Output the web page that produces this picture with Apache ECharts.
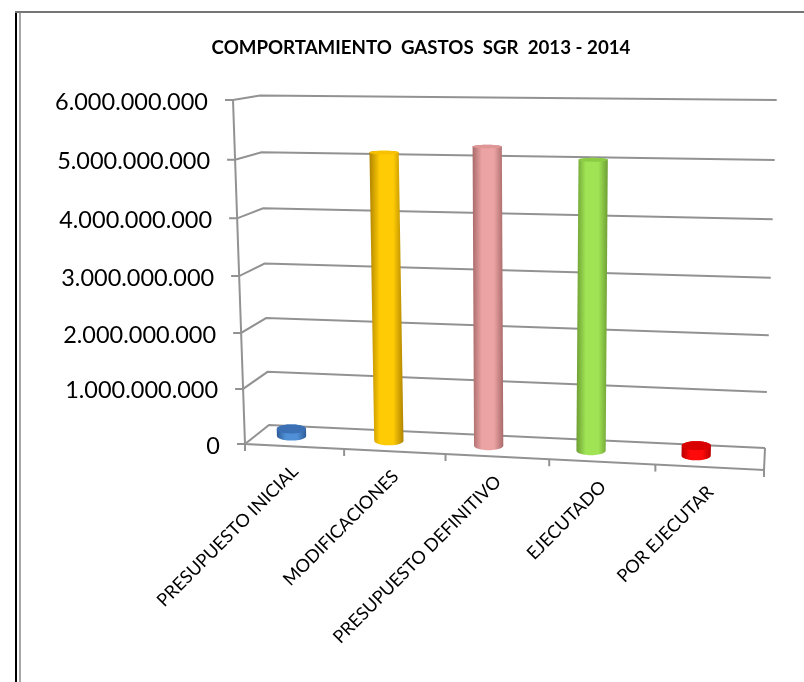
<!DOCTYPE html>
<html>
<head>
<meta charset="utf-8">
<style>
  html, body { margin: 0; padding: 0; background: #fff; }
  #chart { width: 804px; height: 682px; }
</style>
<script src="https://cdn.jsdelivr.net/npm/echarts@6/dist/echarts.min.js"></script>
</head>
<body>
<div id="chart"></div>
<script>
const chartTitle = 'COMPORTAMIENTO  GASTOS  SGR  2013 - 2014';
const categories = ['PRESUPUESTO INICIAL', 'MODIFICACIONES', 'PRESUPUESTO DEFINITIVO', 'EJECUTADO', 'POR EJECUTAR'];
const seriesValues = [130000000, 5080000000, 5200000000, 5000000000, 175000000];
const yTickValues = [0, 1000000000, 2000000000, 3000000000, 4000000000, 5000000000, 6000000000];
const yTickLabels = ['0', '1.000.000.000', '2.000.000.000', '3.000.000.000', '4.000.000.000', '5.000.000.000', '6.000.000.000'];

// edge, middle and top colour of each cylinder
const barColors = [
  ['#2c5a96', '#4f8fd6', '#3b70b4'],
  ['#b08400', '#ffcb05', '#f7c000'],
  ['#a96a6a', '#eba3a3', '#df9696'],
  ['#6d9e33', '#a0e455', '#8ccc44'],
  ['#b80000', '#ff0a0a', '#d80000']
];
const lineColor = '#929292';

// the 3d look: the plain grid is warped on to three planes (corners: 0 left, 0 right, max right, max left)
function makeQuad(p) {
  const dx1 = p[1][0] - p[2][0], dx2 = p[3][0] - p[2][0];
  const dy1 = p[1][1] - p[2][1], dy2 = p[3][1] - p[2][1];
  const sx = p[0][0] - p[1][0] + p[2][0] - p[3][0];
  const sy = p[0][1] - p[1][1] + p[2][1] - p[3][1];
  const den = dx1 * dy2 - dx2 * dy1;
  const g = (sx * dy2 - dx2 * sy) / den;
  const h = (dx1 * sy - sx * dy1) / den;
  const a = p[1][0] - p[0][0] + g * p[1][0];
  const b = p[3][0] - p[0][0] + h * p[3][0];
  const d = p[1][1] - p[0][1] + g * p[1][1];
  const e = p[3][1] - p[0][1] + h * p[3][1];
  return function(s, t) {
    const w = g * s + h * t + 1;
    return [(a * s + b * t + p[0][0]) / w, (d * s + e * t + p[0][1]) / w];
  };
}
const backPlane = makeQuad([[269, 425], [765, 448], [776.7, 100], [260, 95.5]]);
const frontPlane = makeQuad([[245, 444], [764, 470], [778, 106], [233, 100]]);
const barPlane = makeQuad([[243.8, 433.7], [749.7, 458.3], [759, 100], [232.5, 97.5]]);

function heightOf(params, api, val) {
  const cs = params.coordSys;
  return (cs.y + cs.height - api.coord([0, val])[1]) / cs.height;
}

function lineEl(points) {
  return {
    type: 'polyline',
    shape: { points: points },
    style: { stroke: lineColor, lineWidth: 2, fill: null }
  };
}

// left wall + back wall line of one tick, and its label along the slanted axis
function renderWallLine(params, api) {
  const t = heightOf(params, api, api.value(1));
  const front = frontPlane(0, t);
  return {
    type: 'group',
    children: [
      lineEl([[front[0] - 8, front[1]], front, backPlane(0, t), backPlane(1, t)]),
      {
        type: 'text',
        x: front[0] - 25,
        y: front[1] + 2,
        style: {
          text: yTickLabels[params.dataIndex],
          fontFamily: 'Lato',
          fontSize: 23.5,
          fill: '#000',
          align: 'right',
          verticalAlign: 'middle'
        }
      }
    ]
  };
}

// axis edge, floor and its ticks, drawn once
function renderFloor(params, api) {
  const children = [
    lineEl([frontPlane(0, 1), frontPlane(0, 0), frontPlane(1, 0), backPlane(1, 0)])
  ];
  for (let i = 0; i <= categories.length; i++) {
    const p = frontPlane(i / categories.length, 0);
    children.push(lineEl([p, [p[0], p[1] + 7]]));
  }
  return { type: 'group', children: children };
}

function ellipsePoints(cx, cy, rx, ry, from, to) {
  const pts = [];
  for (let i = 0; i <= 24; i++) {
    const a = from + (to - from) * i / 24;
    pts.push([cx + rx * Math.cos(a), cy + ry * Math.sin(a)]);
  }
  return pts;
}

function renderCylinder(params, api) {
  const idx = params.dataIndex;
  const cs = params.coordSys;
  const s = (api.coord([idx, 0])[0] - cs.x) / cs.width;
  const t = heightOf(params, api, api.value(1));
  const base = barPlane(s, 0);
  const top = barPlane(s, t);
  const rx = api.size([1, 0])[0] * 0.136;
  const baseRy = 4.6;
  const topRy = 4.6 - 3.2 * t;
  const colors = barColors[idx];
  const body = ellipsePoints(base[0], base[1], rx, baseRy, 0, Math.PI)
    .concat(ellipsePoints(top[0], top[1], rx, topRy, Math.PI, 2 * Math.PI));
  return {
    type: 'group',
    children: [
      {
        type: 'polygon',
        shape: { points: body },
        style: {
          fill: {
            type: 'linear', x: 0, y: 0, x2: 1, y2: 0,
            colorStops: [
              { offset: 0, color: colors[0] },
              { offset: 0.3, color: colors[1] },
              { offset: 0.7, color: colors[1] },
              { offset: 1, color: colors[0] }
            ]
          }
        }
      },
      {
        type: 'polygon',
        shape: { points: ellipsePoints(top[0], top[1], rx, topRy, 0, 2 * Math.PI) },
        style: { fill: colors[2] }
      }
    ]
  };
}

function renderCategoryLabel(params, api) {
  const p = frontPlane((params.dataIndex + 0.5) / categories.length, 0);
  return {
    type: 'text',
    x: p[0] + 1,
    y: p[1] + 22,
    rotation: Math.PI / 4,
    style: {
      text: categories[params.dataIndex],
      fontFamily: 'Lato',
      fontSize: 18,
      fill: '#000',
      align: 'right',
      verticalAlign: 'middle'
    }
  };
}

const chart = echarts.init(document.getElementById('chart'));
chart.setOption({
  animation: false,
  backgroundColor: '#fff',
  title: {
    text: chartTitle,
    left: 416,
    top: 33,
    textAlign: 'center',
    textStyle: { fontFamily: 'Lato', fontWeight: 'bold', fontSize: 18.7, color: '#000' }
  },
  graphic: [
    { type: 'rect', shape: { x: 15, y: 11, width: 2, height: 671 }, style: { fill: '#000' } },
    { type: 'rect', shape: { x: 19, y: 12, width: 2, height: 670 }, style: { fill: '#a6a6a6' } },
    { type: 'rect', shape: { x: 15, y: 11, width: 789, height: 2 }, style: { fill: '#757575' } }
  ],
  grid: { left: 226, right: 40, top: 102, bottom: 238 },
  xAxis: {
    type: 'category',
    data: categories,
    show: false
  },
  yAxis: {
    type: 'value',
    min: 0,
    max: 6000000000,
    interval: 1000000000,
    show: false
  },
  series: [
    {
      type: 'custom',
      silent: true,
      z: 1,
      renderItem: renderWallLine,
      data: yTickValues.map(function(v) { return [0, v]; })
    },
    {
      type: 'custom',
      silent: true,
      z: 2,
      renderItem: renderFloor,
      data: [[0, 0]]
    },
    {
      type: 'custom',
      silent: true,
      z: 3,
      renderItem: renderCylinder,
      data: seriesValues.map(function(v, i) { return [i, v]; })
    },
    {
      type: 'custom',
      silent: true,
      z: 4,
      renderItem: renderCategoryLabel,
      data: categories.map(function(c, i) { return [i, 0]; })
    }
  ]
});
</script>
</body>
</html>
